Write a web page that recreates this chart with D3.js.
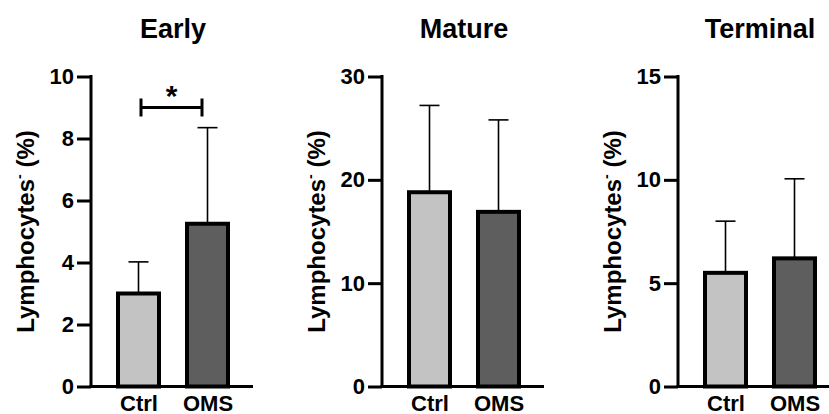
<!DOCTYPE html>
<html><head><meta charset="utf-8">
<script src="https://cdn.jsdelivr.net/npm/d3@7/dist/d3.min.js"></script>
<style>
html,body{margin:0;padding:0;background:#fff;}
svg{display:block;}
text{font-family:"Liberation Sans",Arial,Helvetica,sans-serif;font-weight:bold;fill:#000;}
</style></head>
<body><svg id="chart" width="829" height="414"></svg>
<script>
const categories = ["Ctrl", "OMS"];
const panelTitles = ["Early", "Mature", "Terminal"];
const earlyMeans = [3.0, 5.25];
const earlyUpper = [4.02, 8.35];
const matureMeans = [18.8, 16.9];
const matureUpper = [27.2, 25.8];
const terminalMeans = [5.5, 6.2];
const terminalUpper = [8.0, 10.05];
const yMaxes = [10, 30, 15];
const earlyTicks = [0, 2, 4, 6, 8, 10];
const matureTicks = [0, 10, 20, 30];
const terminalTicks = [0, 5, 10, 15];
const yLabel = "Lymphocytes";
const sigLevel = 9.0;
const sigText = "*";

const panels = [
  {title: panelTitles[0], means: earlyMeans, upper: earlyUpper, ymax: yMaxes[0], ticks: earlyTicks, ax: 91, sig: true},
  {title: panelTitles[1], means: matureMeans, upper: matureUpper, ymax: yMaxes[1], ticks: matureTicks, ax: 382, sig: false},
  {title: panelTitles[2], means: terminalMeans, upper: terminalUpper, ymax: yMaxes[2], ticks: terminalTicks, ax: 678, sig: false}
];
const fills = ["#c3c3c3", "#5e5e5e"];
const svg = d3.select("#chart");
const yTop = 76.5, yBot = 386.5;

panels.forEach(p => {
  const g = svg.append("g").attr("transform", `translate(${p.ax},0)`);
  const y = d3.scaleLinear().domain([0, p.ymax]).range([yBot, yTop]);
  const x = d3.scalePoint().domain(categories).range([47.5, 116.5]);
  const bw = 41;

  categories.forEach((c, i) => {
    g.append("line").attr("x1", x(c)).attr("x2", x(c))
      .attr("y1", y(p.means[i])).attr("y2", y(p.upper[i]))
      .attr("stroke", "#000").attr("stroke-width", 1.6);
    g.append("line").attr("x1", x(c) - 10).attr("x2", x(c) + 10)
      .attr("y1", y(p.upper[i])).attr("y2", y(p.upper[i]))
      .attr("stroke", "#000").attr("stroke-width", 1.6);
    g.append("rect").attr("x", x(c) - bw / 2).attr("width", bw)
      .attr("y", y(p.means[i])).attr("height", y(0) - y(p.means[i]))
      .attr("fill", fills[i]).attr("stroke", "#000").attr("stroke-width", 4);
  });

  const yAxis = d3.axisLeft(y).tickValues(p.ticks).tickFormat(d3.format("d"))
    .tickSize(14).tickSizeOuter(0).tickPadding(3);
  const ya = g.append("g").call(yAxis);
  ya.select(".domain").attr("stroke-width", 3).attr("d", `M0,${yTop - 1.5}V${yBot}`);
  ya.selectAll(".tick line").attr("stroke-width", 3);
  ya.selectAll(".tick text").attr("font-size", 22).attr("font-weight", "bold")
    .attr("font-family", '"Liberation Sans",Arial,sans-serif');

  g.append("line").attr("x1", -1.5).attr("x2", 162).attr("y1", yBot).attr("y2", yBot)
    .attr("stroke", "#000").attr("stroke-width", 3);

  const xAxis = d3.axisBottom(x).tickSize(0).tickPadding(0);
  const xa = g.append("g").attr("transform", `translate(0,${yBot})`).call(xAxis);
  xa.select(".domain").remove();
  xa.selectAll(".tick text").attr("font-size", 22).attr("font-weight", "bold")
    .attr("font-family", '"Liberation Sans",Arial,sans-serif')
    .attr("dy", null).attr("y", 24);

  g.append("text").attr("x", 82).attr("y", 38).attr("text-anchor", "middle")
    .attr("font-size", 27).text(p.title);

  const yl = g.append("text").attr("transform", `translate(-57,${(yTop + yBot) / 2}) rotate(-90)`)
    .attr("text-anchor", "middle").attr("font-size", 24);
  yl.append("tspan").text(yLabel);
  yl.append("tspan").attr("font-size", 14).attr("dy", -10).text("-");
  yl.append("tspan").attr("dy", 10).text(" (%)");

  if (p.sig) {
    const sy = y(sigLevel), x1 = x(categories[0]) + 2.5, x2 = x(categories[1]) - 5.5;
    g.append("path").attr("d", `M${x1},${sy - 9}V${sy + 9}M${x1},${sy}H${x2}M${x2},${sy - 9}V${sy + 9}`)
      .attr("fill", "none").attr("stroke", "#000").attr("stroke-width", 3);
    g.append("text").attr("x", (x1 + x2) / 2).attr("y", sy - 2).attr("text-anchor", "middle")
      .attr("font-size", 30).text(sigText);
  }
});
</script></body></html>
